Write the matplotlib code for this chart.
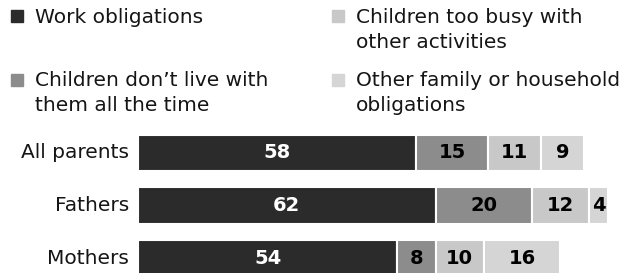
import numpy as np
import matplotlib
matplotlib.use("Agg")
from matplotlib import pyplot as plt
from matplotlib.patches import Rectangle

# data
groups = ["All parents", "Fathers", "Mothers"]
series_names = ["Work obligations",
                "Children don\u2019t live with\nthem all the time",
                "Children too busy with\nother activities",
                "Other family or household\nobligations"]
work = [58, 62, 54]
dont_live = [15, 20, 8]
too_busy = [11, 12, 10]
other = [9, 4, 16]

colors = ["#2b2b2b", "#8c8c8c", "#c8c8c8", "#d5d5d5"]
text_colors = ["white", "black", "black", "black"]

W, H = 631, 273
fig = plt.figure(figsize=(W / 100, H / 100), dpi=100)

# axes placed in pixel units: bars start at x=138, first row centred at y=153
ax_left, ax_top = 138, 120
ax = fig.add_axes([ax_left / W, 0, (W - ax_left) / W, (H - ax_top) / H])
px_per_unit = 4.8
ax.set_xlim(0, (W - ax_left) / px_per_unit)
row_px = 52.5
ax.set_ylim((H - 153) / row_px, (ax_top - 153) / row_px)
ax.axis("off")

values = np.array([work, dont_live, too_busy, other])
y = np.arange(len(groups))
left = np.zeros(len(groups))
for i, vals in enumerate(values):
    ax.barh(y, vals, left=left, height=0.69, color=colors[i],
            edgecolor="white", linewidth=1.5)
    for j, v in enumerate(vals):
        ax.text(left[j] + v / 2, y[j], str(v), ha="center", va="center",
                color=text_colors[i], fontsize=14, fontweight="bold")
    left += vals

for j, g in enumerate(groups):
    ax.text(-1.9, y[j], g, ha="right", va="center", fontsize=14.5,
            color="#151515")

# legend drawn by hand in pixel coords (x of marker, baseline of first line)
leg_pos = [(11, 23), (11, 86.5), (332, 23), (332, 86.5)]
for name, col, (lx, ly) in zip(series_names, colors, leg_pos):
    fig.patches.append(Rectangle((lx / W, 1 - (ly - 1) / H), 12 / W, 12 / H,
                                 transform=fig.transFigure, color=col))
    for k, line in enumerate(name.split("\n")):
        fig.text((lx + 24) / W, 1 - (ly + 24.5 * k) / H, line, ha="left",
                 va="baseline", fontsize=14.5, color="#151515")

fig.savefig("out.png", dpi=100)
